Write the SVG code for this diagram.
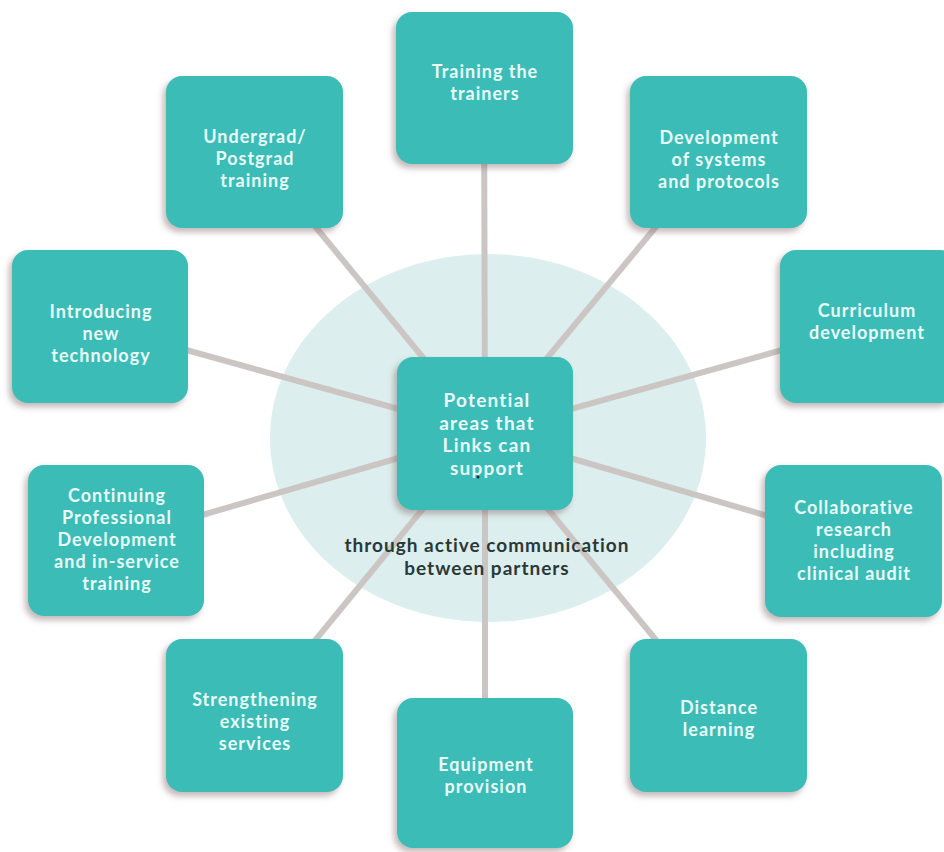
<svg xmlns="http://www.w3.org/2000/svg" width="944" height="852" viewBox="0 0 944 852">
<defs>
<filter id="sh" x="-20%" y="-20%" width="140%" height="140%">
<feDropShadow dx="-3" dy="4" stdDeviation="3" flood-color="#7a5f5f" flood-opacity="0.45"/>
</filter>
<style>
.box{fill:#3bbcb6;filter:url(#sh)}
.t{font-family:Lato,"Open Sans","Liberation Sans",sans-serif;font-weight:700;font-size:18px;letter-spacing:1px;fill:#e8fbf8;text-anchor:middle}
.c{font-size:19px;letter-spacing:1.2px}
.sub{font-family:Lato,"Open Sans","Liberation Sans",sans-serif;font-weight:700;font-size:19px;letter-spacing:1px;fill:#2b3838;text-anchor:middle}
.ln{stroke:#cbc6c3;stroke-width:6;fill:none}
</style>
</defs>
<rect width="944" height="852" fill="#ffffff"/>
<ellipse cx="488" cy="438" rx="218" ry="184" fill="#dcefee"/>
<g id="connectors">
<line class="ln" x1="485" y1="433" x2="484" y2="88"/>
<line class="ln" x1="485" y1="433" x2="254" y2="152"/>
<line class="ln" x1="485" y1="433" x2="718" y2="152"/>
<line class="ln" x1="485" y1="433" x2="100" y2="326"/>
<line class="ln" x1="485" y1="433" x2="868" y2="326"/>
<line class="ln" x1="485" y1="433" x2="116" y2="540"/>
<line class="ln" x1="485" y1="433" x2="853" y2="541"/>
<line class="ln" x1="485" y1="433" x2="254" y2="715"/>
<line class="ln" x1="485" y1="433" x2="718" y2="715"/>
<line class="ln" x1="485" y1="433" x2="485" y2="773"/>
</g>
<g id="center">
<rect class="box" x="397" y="357" width="176" height="153" rx="16"/>
<text class="t c" x="487" y="407">Potential</text>
<text class="t c" x="487" y="429.5">areas that</text>
<text class="t c" x="487" y="452">Links can</text>
<text class="t c" x="487" y="474.5">support</text>
<circle cx="478" cy="477" r="1.5" fill="#1b2b4a"/>
</g>
<g id="training-trainers">
<rect class="box" x="396" y="12" width="177" height="152" rx="16"/>
<text class="t" x="485" y="78">Training the</text>
<text class="t" x="485" y="100">trainers</text>
</g>
<g id="undergrad">
<rect class="box" x="166" y="76" width="177" height="152" rx="16"/>
<text class="t" x="255" y="143">Undergrad/</text>
<text class="t" x="255" y="165">Postgrad</text>
<text class="t" x="255" y="187">training</text>
</g>
<g id="development-systems">
<rect class="box" x="630" y="76" width="177" height="152" rx="16"/>
<text class="t" x="719" y="144">Development</text>
<text class="t" x="719" y="166">of systems</text>
<text class="t" x="719" y="188">and protocols</text>
</g>
<g id="introducing-technology">
<rect class="box" x="12" y="250" width="176" height="153" rx="16"/>
<text class="t" x="101" y="318">Introducing</text>
<text class="t" x="101" y="340">new</text>
<text class="t" x="101" y="362">technology</text>
</g>
<g id="curriculum">
<rect class="box" x="780" y="250" width="176" height="153" rx="16"/>
<text class="t" x="867" y="317">Curriculum</text>
<text class="t" x="867" y="339">development</text>
</g>
<g id="cpd">
<rect class="box" x="28" y="465" width="176" height="151" rx="16"/>
<text class="t" x="117" y="502">Continuing</text>
<text class="t" x="117" y="524">Professional</text>
<text class="t" x="117" y="546">Development</text>
<text class="t" x="117" y="568">and in-service</text>
<text class="t" x="117" y="590">training</text>
</g>
<g id="collaborative-research">
<rect class="box" x="765" y="465" width="177" height="152" rx="16"/>
<text class="t" x="854" y="514">Collaborative</text>
<text class="t" x="854" y="536">research</text>
<text class="t" x="854" y="558">including</text>
<text class="t" x="854" y="580">clinical audit</text>
</g>
<g id="strengthening">
<rect class="box" x="166" y="639" width="177" height="153" rx="16"/>
<text class="t" x="255" y="706">Strengthening</text>
<text class="t" x="255" y="728">existing</text>
<text class="t" x="255" y="750">services</text>
</g>
<g id="distance-learning">
<rect class="box" x="630" y="639" width="177" height="153" rx="16"/>
<text class="t" x="719" y="714">Distance</text>
<text class="t" x="719" y="736">learning</text>
</g>
<g id="equipment">
<rect class="box" x="397" y="698" width="176" height="150" rx="16"/>
<text class="t" x="486" y="771">Equipment</text>
<text class="t" x="486" y="793">provision</text>
</g>
<g id="subtitle">
<text class="sub" x="487" y="552">through active communication</text>
<text class="sub" x="487" y="575">between partners</text>
</g>
</svg>
